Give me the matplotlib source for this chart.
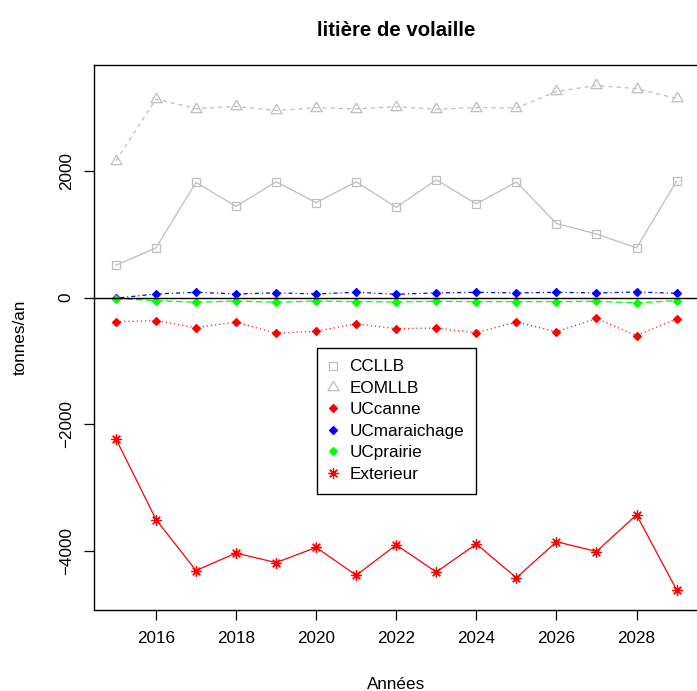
import matplotlib
matplotlib.use("Agg")
import matplotlib.pyplot as plt
from matplotlib.lines import Line2D
import numpy as np

plt.rcParams['font.family'] = ['Liberation Sans', 'DejaVu Sans']
plt.rcParams['lines.scale_dashes'] = False

years = np.arange(2015, 2030)
ccllb = [510, 785, 1820, 1440, 1830, 1500, 1830, 1425, 1860, 1480, 1825, 1170, 1005, 785, 1840]
eomllb = [2160, 3135, 2985, 3020, 2955, 3000, 2980, 3015, 2975, 3000, 2995, 3255, 3350, 3300, 3145]
uccanne = [-380, -365, -475, -385, -565, -530, -415, -490, -480, -555, -385, -540, -330, -600, -335]
ucmaraichage = [-10, 58, 84, 58, 74, 58, 84, 53, 74, 84, 74, 84, 74, 89, 68]
ucprairie = [-15, -47, -74, -53, -74, -53, -63, -68, -58, -63, -63, -63, -58, -84, -47]
exterieur = [-2230, -3505, -4310, -4035, -4185, -3945, -4385, -3905, -4335, -3890, -4425, -3855, -4010, -3430, -4615]

names = ["CCLLB", "EOMLLB", "UCcanne", "UCmaraichage", "UCprairie", "Exterieur"]
series = [ccllb, eomllb, uccanne, ucmaraichage, ucprairie, exterieur]

# R style symbols
tri = [(0, 1), (0.866, -0.5), (-0.866, -0.5), (0, 1)]
styles = [
    dict(color='#BEBEBE', ls='-', marker='s', ms=6, mfc='none'),
    dict(color='#BEBEBE', ls=(0, (2.9, 2.9)), marker=tri, ms=9.2, mfc='none'),
    dict(color='#FF0000', ls=(0, (0.8, 2.2)), marker='D', ms=3.6, mfc='#FF0000'),
    dict(color='#0000FF', ls=(0, (0.8, 2.2, 2.9, 2.2)), marker='D', ms=3.6, mfc='#0000FF'),
    dict(color='#00FF00', ls=(0, (5.0, 2.2)), marker='D', ms=3.6, mfc='#00FF00'),
    dict(color='#FF0000', ls='-', marker=(8, 2, 0), ms=7.5, mfc='none'),
]

fig = plt.figure(figsize=(6.97, 6.91), dpi=100)
ax = fig.add_axes([93.5 / 697, 1 - 610 / 691, 605.5 / 697, 544.7 / 691])

for name, vals, st in zip(names, series, styles):
    ax.plot(years, vals, color=st['color'], linestyle=st['ls'], linewidth=0.9,
            marker=st['marker'], markersize=st['ms'], markerfacecolor=st['mfc'],
            markeredgecolor=st['color'], markeredgewidth=0.9)

ax.axhline(0, color='black', linewidth=1.0)

# axis ranges padded by 4% like R
allv = np.concatenate([np.array(s) for s in series])
lo, hi = allv.min(), allv.max()
pad = 0.04 * (hi - lo)
ax.set_ylim(lo - pad, hi + pad)
xpad = 0.04 * (years[-1] - years[0])
ax.set_xlim(years[0] - xpad, years[-1] + xpad)

ax.set_xticks(np.arange(2016, 2029, 2))
ax.set_yticks([-4000, -2000, 0, 2000])
ax.tick_params(axis='both', length=7.2, width=0.9, labelsize=12.3, colors='black')
ax.tick_params(axis='x', pad=8)
ax.tick_params(axis='y', pad=7)
for lab in ax.get_yticklabels():
    lab.set_rotation(90)
    lab.set_va('center')
for sp in ax.spines.values():
    sp.set_linewidth(1.0)

ax.set_title("litière de volaille", fontsize=14.7, fontweight='bold', pad=21)
ax.set_xlabel("Années", fontsize=12.3, labelpad=22.5)
ax.set_ylabel("tonnes/an", fontsize=12.3, labelpad=22)

handles = [Line2D([], [], linestyle='none', color=st['color'], marker=st['marker'],
                  markersize=st['ms'], markerfacecolor=st['mfc'],
                  markeredgecolor=st['color'], markeredgewidth=0.9)
           for st in styles]
leg = ax.legend(handles, names, loc='upper left',
                bbox_to_anchor=(317.3 / 697, 1 - 347.7 / 691), bbox_transform=fig.transFigure,
                borderaxespad=0, fontsize=12.3, frameon=True, fancybox=False,
                edgecolor='black', framealpha=1, borderpad=0.69, handlelength=0.49,
                handletextpad=0.69, labelspacing=0.38)
leg.get_frame().set_linewidth(1.0)

fig.savefig("out.png", dpi=100)
